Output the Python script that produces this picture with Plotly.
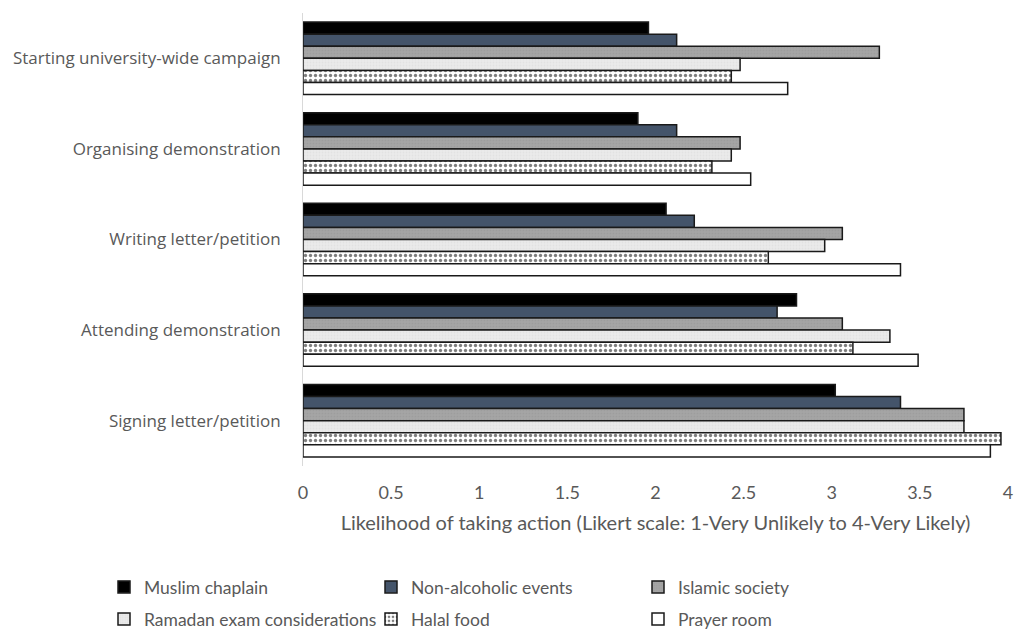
import plotly.graph_objects as go

actions = [
    "Starting university-wide campaign",
    "Organising demonstration",
    "Writing letter/petition",
    "Attending demonstration",
    "Signing letter/petition",
]

muslim_chaplain = [1.96, 1.90, 2.06, 2.80, 3.02]
non_alcoholic_events = [2.12, 2.12, 2.22, 2.69, 3.39]
islamic_society = [3.27, 2.48, 3.06, 3.06, 3.75]
ramadan_exam = [2.48, 2.43, 2.96, 3.33, 3.75]
halal_food = [2.43, 2.32, 2.64, 3.12, 3.96]
prayer_room = [2.75, 2.54, 3.39, 3.49, 3.90]

series = [
    ("Muslim chaplain", muslim_chaplain, "#000000", None, "legend"),
    ("Non-alcoholic events", non_alcoholic_events, "#44546A", None, "legend"),
    ("Islamic society", islamic_society, "#A5A5A5",
     dict(shape=".", fgcolor="#959595", size=3, solidity=0.3), "legend"),
    ("Ramadan exam considerations", ramadan_exam, "#EAEAEA",
     dict(shape=".", fgcolor="#DADADA", size=3, solidity=0.3), "legend2"),
    ("Halal food", halal_food, "#FFFFFF",
     dict(shape=".", fgcolor="#000000", size=5, solidity=0.35), "legend2"),
    ("Prayer room", prayer_room, "#FFFFFF", None, "legend2"),
]

fig = go.Figure()
for name, vals, color, pattern, leg in series:
    marker = dict(color=color, line=dict(color="#1A1A1A", width=1.5))
    if pattern:
        marker["pattern"] = pattern
    fig.add_trace(go.Bar(
        name=name, y=actions, x=vals, orientation="h",
        marker=marker, legend=leg,
    ))

label_font = dict(family="Open Sans", size=17, color="#595959")
legend_font = dict(family="Lato", size=17.5, color="#595959")

# plot area in pixels: x 303..1008, y 13..466
plot_l, plot_w, plot_b, plot_h = 303, 705, 466, 453

legend_common = dict(
    orientation="h", x=(104 - plot_l) / plot_w, xanchor="left", yanchor="middle",
    entrywidth=222, entrywidthmode="pixels", itemwidth=30,
    font=legend_font, bgcolor="rgba(0,0,0,0)",
    itemclick=False, itemdoubleclick=False,
)

fig.update_layout(
    width=1017, height=629,
    margin=dict(l=303, r=9, t=13, b=163, autoexpand=False),
    paper_bgcolor="white", plot_bgcolor="white",
    barmode="group", bargap=0.2, bargroupgap=0,
    xaxis=dict(
        range=[0, 4], dtick=0.5, showgrid=False, zeroline=False,
        showline=False, ticks="", ticklabelstandoff=14,
        tickfont=dict(family="Lato", size=18, color="#595959"),
        title=dict(
            text="Likelihood of taking action (Likert scale: 1-Very Unlikely to 4-Very Likely)",
            font=dict(family="Lato", size=20, color="#595959"),
            standoff=13,
        ),
    ),
    yaxis=dict(
        autorange="reversed", showgrid=False, zeroline=False,
        showline=True, linecolor="#D9D9D9", linewidth=1, ticks="",
        tickfont=label_font, ticklabelstandoff=18,
    ),
    legend=dict(legend_common, y=(plot_b - 587) / plot_h),
    legend2=dict(legend_common, y=(plot_b - 619) / plot_h),
)

fig.write_html("out.html")
